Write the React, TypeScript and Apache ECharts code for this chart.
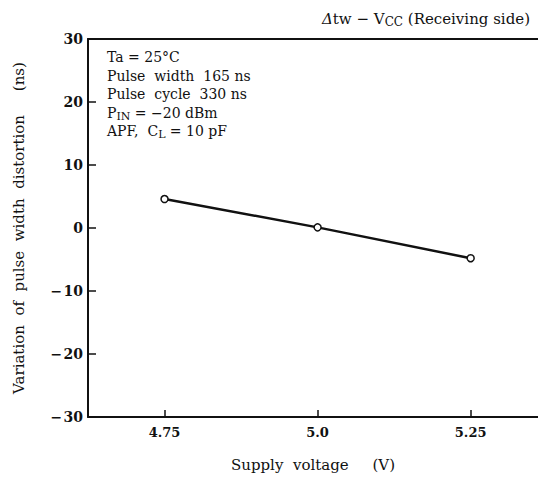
import React, { useEffect, useRef } from "react";
import * as echarts from "echarts";

const voltages = [4.75, 5.0, 5.25];
const distortion = [4.6, 0.1, -4.8];
const xTickValues = [4.75, 5.0, 5.25];
const xTickLabels = ["4.75", "5.0", "5.25"];
const yTickLabels: Record<string, string> = {
  "30": "30",
  "20": "20",
  "10": "10",
  "0": "0",
  "-10": "\u2212\u200a10",
  "-20": "\u2212\u200a20",
  "-30": "\u2212\u200a30",
};
const noteLines = [
  [{ t: "Ta = 25\u00b0C" }],
  [{ t: "Pulse  width  165 ns" }],
  [{ t: "Pulse  cycle  330 ns" }],
  [{ t: "P" }, { t: "IN", s: true }, { t: " = \u221220 dBm" }],
  [{ t: "APF,  C" }, { t: "L", s: true }, { t: " = 10 pF" }],
];

const FONT = "DejaVu Serif";

export default function App() {
  const ref = useRef<HTMLDivElement>(null);
  useEffect(() => {
    const chart = echarts.init(ref.current!, null, { renderer: "svg" });
    const noteGraphics = noteLines.map((parts, i) => ({
      type: "text",
      left: 107,
      top: 50 + i * 18.6,
      style: {
        text: parts
          .map((p: any) => (p.s ? `{s|${p.t}}` : `{n|${p.t}}`))
          .join(""),
        rich: {
          n: { fontFamily: FONT, fontSize: 14, fill: "#111", lineHeight: 14, verticalAlign: "top" },
          s: { fontFamily: FONT, fontSize: 11, fill: "#111", lineHeight: 16, verticalAlign: "bottom" },
        },
      },
    }));
    chart.setOption({
      animation: false,
      backgroundColor: "#fff",
      title: {
        right: 3,
        top: 6,
        text: "{d|\u0394}{n|tw \u2212 V}{s|CC}{n| (Receiving side)}",
        textStyle: {
          rich: {
            d: { fontFamily: FONT, fontSize: 15, fontStyle: "italic", fontWeight: "normal", color: "#111", lineHeight: 15, verticalAlign: "top" },
            n: { fontFamily: FONT, fontSize: 15, fontWeight: "normal", color: "#111", lineHeight: 15, verticalAlign: "top" },
            s: { fontFamily: FONT, fontSize: 12, fontWeight: "normal", color: "#111", lineHeight: 17, verticalAlign: "bottom" },
          },
        },
      },
      grid: { left: 88, right: 0, top: 39, bottom: 65 },
      xAxis: [
        {
          type: "value",
          min: 4.625,
          max: 5.36,
          name: "Supply  voltage     (V)",
          nameLocation: "middle",
          nameGap: 40,
          nameTextStyle: { fontFamily: FONT, fontSize: 15, color: "#111" },
          splitLine: { show: false },
          axisLine: { show: true, onZero: false, lineStyle: { color: "#111", width: 2 } },
          axisTick: {
            show: true,
            inside: true,
            length: 7,
            customValues: xTickValues,
            lineStyle: { color: "#111", width: 1.5 },
          },
          axisLabel: {
            customValues: xTickValues,
            formatter: (v: number) => xTickLabels[xTickValues.indexOf(v)] ?? "",
            fontFamily: FONT,
            fontSize: 13,
            fontWeight: "bold",
            color: "#111",
            margin: 9,
          },
        },
        {
          type: "value",
          position: "top",
          min: 4.625,
          max: 5.36,
          splitLine: { show: false },
          axisLine: { show: true, onZero: false, lineStyle: { color: "#111", width: 2 } },
          axisTick: { show: false },
          axisLabel: { show: false },
        },
      ],
      yAxis: {
        type: "value",
        min: -30,
        max: 30,
        interval: 10,
        name: "Variation  of  pulse  width  distortion     (ns)",
        nameLocation: "middle",
        nameGap: 62,
        nameTextStyle: { fontFamily: FONT, fontSize: 15, color: "#111" },
        splitLine: { show: false },
        axisLine: { show: true, onZero: false, lineStyle: { color: "#111", width: 2 } },
        axisTick: { show: true, inside: true, length: 8, lineStyle: { color: "#111", width: 1.5 } },
        axisLabel: {
          formatter: (v: number) => yTickLabels[String(v)] ?? String(v),
          fontFamily: FONT,
          fontSize: 14,
          fontWeight: "bold",
          color: "#111",
          margin: 5,
        },
      },
      graphic: noteGraphics,
      series: [
        {
          type: "line",
          data: voltages.map((v, i) => [v, distortion[i]]),
          lineStyle: { color: "#111", width: 2.5 },
          symbol: "circle",
          symbolSize: 7,
          itemStyle: { color: "#fff", borderColor: "#111", borderWidth: 1.5 },
        },
      ],
    });
    return () => chart.dispose();
  }, []);
  return <div ref={ref} style={{ width: 538, height: 482, position: "absolute", left: 0, top: 0 }} />;
}
